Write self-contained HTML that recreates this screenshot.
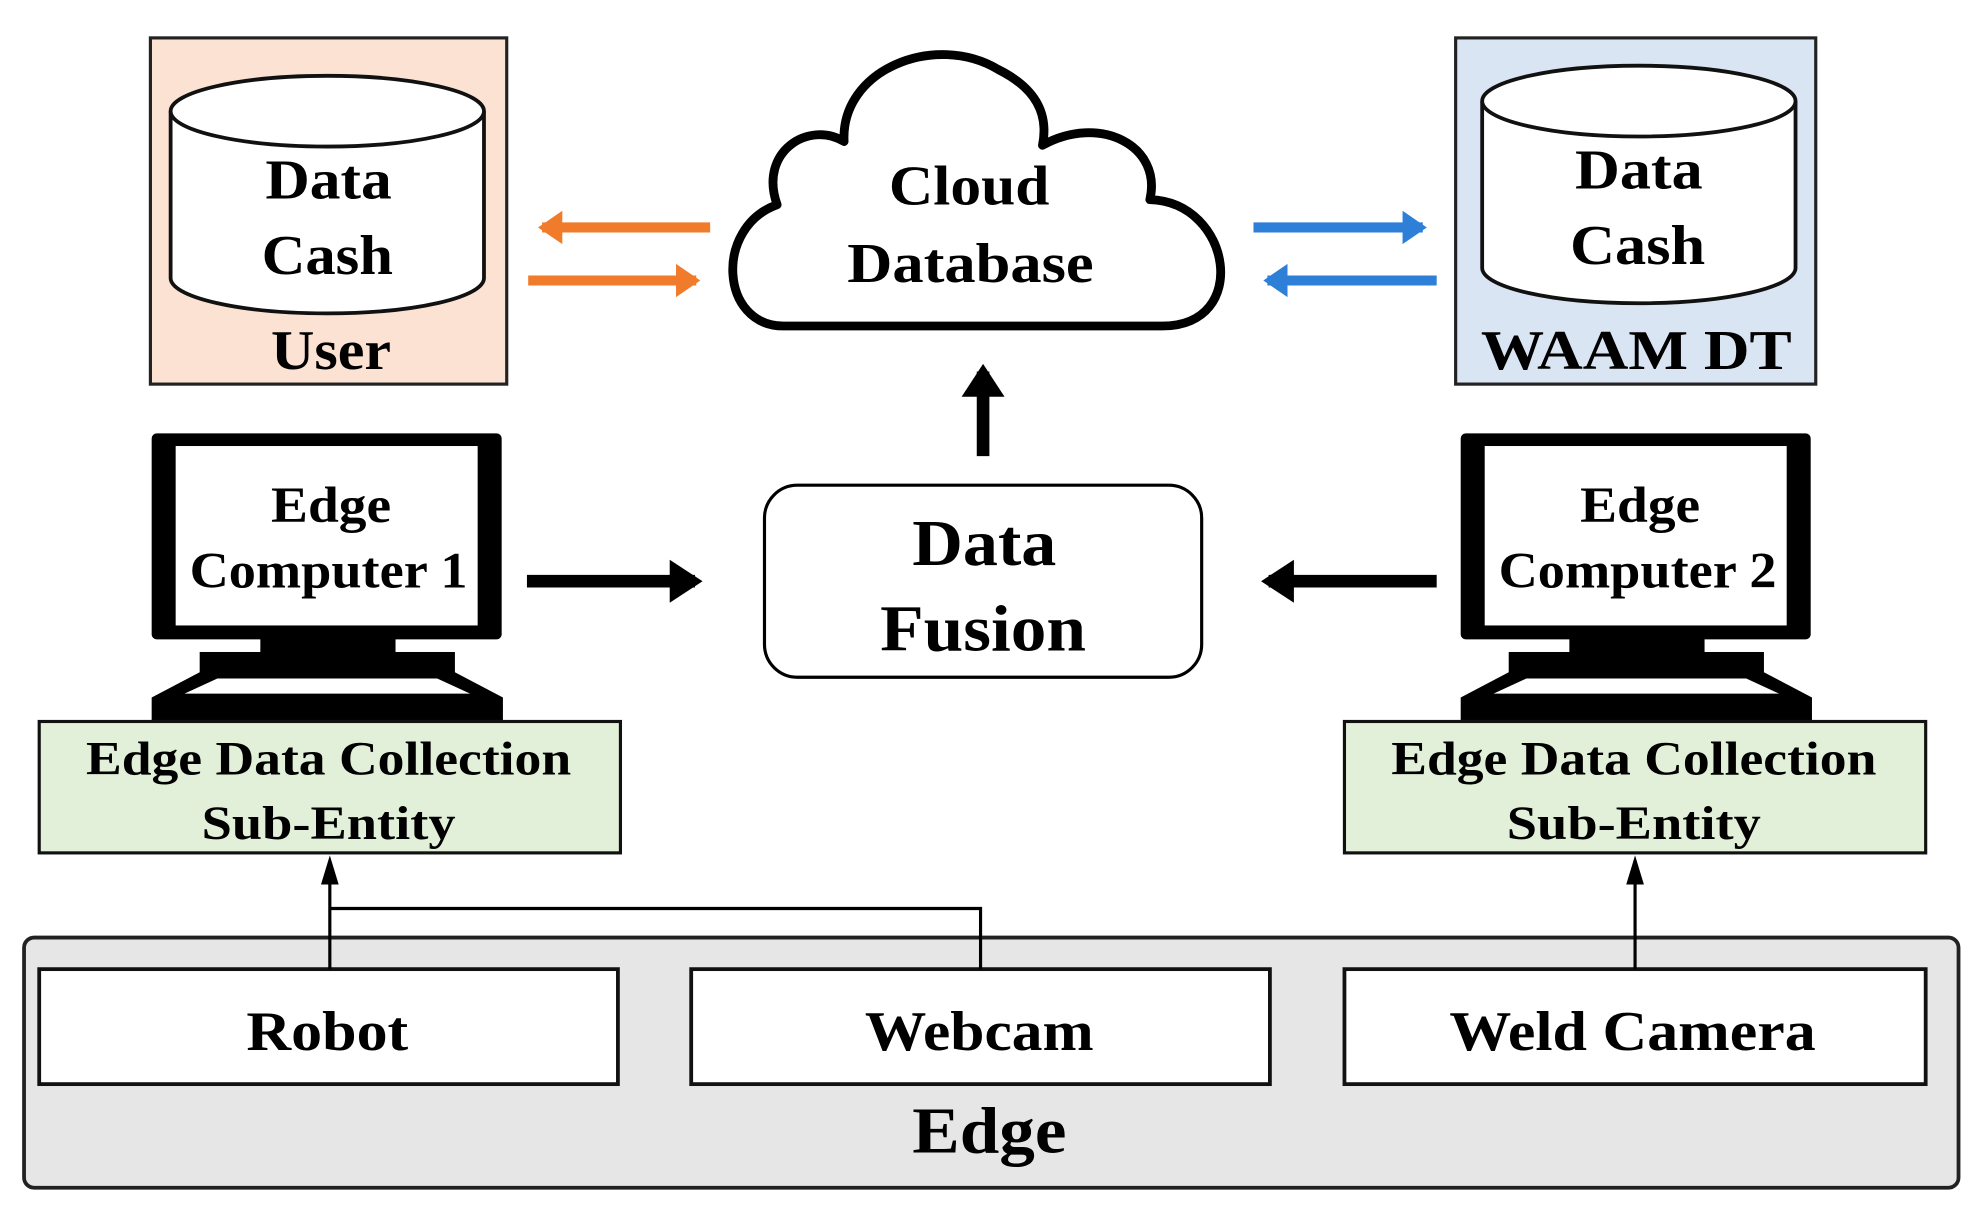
<!DOCTYPE html>
<html><head><meta charset="utf-8"><style>
html,body{margin:0;padding:0;background:#fff;}
svg{display:block;}
text{font-family:"Liberation Serif",serif;font-weight:bold;fill:#000;text-anchor:middle;}
</style></head><body>
<svg width="1975" height="1213" viewBox="0 0 1563 960" xmlns="http://www.w3.org/2000/svg">
<defs>
<marker id="ab" markerWidth="4" markerHeight="4" refX="2" refY="2" orient="auto" markerUnits="strokeWidth"><path d="M0,0.3 L2.6,2 L0,3.7 z" fill="#000"/></marker>
<marker id="ao" markerWidth="4" markerHeight="4" refX="2" refY="2" orient="auto" markerUnits="strokeWidth"><path d="M0,0.35 L2.4,2 L0,3.65 z" fill="#f07b2a"/></marker>
<marker id="abl" markerWidth="4" markerHeight="4" refX="2" refY="2" orient="auto" markerUnits="strokeWidth"><path d="M0,0.35 L2.4,2 L0,3.65 z" fill="#2e7fd8"/></marker>
</defs>

<rect x="119" y="30" width="282" height="274" fill="#fbe2d3" stroke="#222" stroke-width="2.5"/>
<path d="M135,88 L135,220 A124,28 0 0 0 383,220 L383,88" fill="#fff" stroke="#111" stroke-width="3"/>
<ellipse cx="259" cy="88" rx="124" ry="28" fill="#fff" stroke="#111" stroke-width="3"/>
<text x="260" y="157" font-size="44" textLength="100" lengthAdjust="spacingAndGlyphs">Data</text>
<text x="259" y="217" font-size="44" textLength="104" lengthAdjust="spacingAndGlyphs">Cash</text>
<text x="262" y="292" font-size="44" textLength="95" lengthAdjust="spacingAndGlyphs">User</text>

<rect x="1152" y="30" width="285" height="274" fill="#dae5f3" stroke="#222" stroke-width="2.5"/>
<path d="M1173,80 L1173,212 A124,28 0 0 0 1421,212 L1421,80" fill="#fff" stroke="#111" stroke-width="3"/>
<ellipse cx="1297" cy="80" rx="124" ry="28" fill="#fff" stroke="#111" stroke-width="3"/>
<text x="1297" y="149" font-size="44" textLength="101" lengthAdjust="spacingAndGlyphs">Data</text>
<text x="1296" y="209" font-size="44" textLength="107" lengthAdjust="spacingAndGlyphs">Cash</text>
<text x="1295" y="292" font-size="44" textLength="246" lengthAdjust="spacingAndGlyphs">WAAM DT</text>

<path d="M620,258 C570,258 565,180 615,162 C600,120 640,95 668,112 C665,55 740,25 790,55 C820,70 830,90 825,115 C870,90 920,115 910,158 C975,160 990,258 920,258 Z" fill="#fff" stroke="#000" stroke-width="7" stroke-linejoin="round"/>
<text x="767" y="162" font-size="44" textLength="127" lengthAdjust="spacingAndGlyphs">Cloud</text>
<text x="768" y="223" font-size="44" textLength="195" lengthAdjust="spacingAndGlyphs">Database</text>

<line x1="562" y1="180" x2="429" y2="180" stroke="#f07b2a" stroke-width="8" marker-end="url(#ao)"/>
<line x1="418" y1="222" x2="551" y2="222" stroke="#f07b2a" stroke-width="8" marker-end="url(#ao)"/>
<line x1="992" y1="180" x2="1126" y2="180" stroke="#2e7fd8" stroke-width="8" marker-end="url(#abl)"/>
<line x1="1137" y1="222" x2="1003" y2="222" stroke="#2e7fd8" stroke-width="8" marker-end="url(#abl)"/>

<line x1="778" y1="361" x2="778" y2="294" stroke="#000" stroke-width="10" marker-end="url(#ab)"/>

<rect x="605" y="384" width="346" height="152" rx="26" fill="#fff" stroke="#000" stroke-width="2.5"/>
<text x="779" y="447" font-size="52" textLength="114" lengthAdjust="spacingAndGlyphs">Data</text>
<text x="778" y="515" font-size="52" textLength="163" lengthAdjust="spacingAndGlyphs">Fusion</text>

<line x1="417" y1="460" x2="550" y2="460" stroke="#000" stroke-width="10" marker-end="url(#ab)"/>
<line x1="1137" y1="460" x2="1004" y2="460" stroke="#000" stroke-width="10" marker-end="url(#ab)"/>

<g>
<rect x="120" y="343" width="277" height="163" rx="4" fill="#000"/>
<rect x="139" y="353" width="239" height="142" fill="#fff"/>
<rect x="206" y="505" width="107" height="12" fill="#000"/>
<rect x="158" y="516" width="202" height="17" fill="#000"/>
<polygon points="158,532 360,532 398,552 398,570 120,570 120,552" fill="#000"/>
<polygon points="172,537 346,537 372,549 146,549" fill="#fff"/>
<text x="262" y="413" font-size="40" textLength="95" lengthAdjust="spacingAndGlyphs">Edge</text>
<text x="260" y="465" font-size="40" textLength="220" lengthAdjust="spacingAndGlyphs">Computer 1</text>
</g>
<g transform="translate(1036,0)">
<rect x="120" y="343" width="277" height="163" rx="4" fill="#000"/>
<rect x="139" y="353" width="239" height="142" fill="#fff"/>
<rect x="206" y="505" width="107" height="12" fill="#000"/>
<rect x="158" y="516" width="202" height="17" fill="#000"/>
<polygon points="158,532 360,532 398,552 398,570 120,570 120,552" fill="#000"/>
<polygon points="172,537 346,537 372,549 146,549" fill="#fff"/>
<text x="262" y="413" font-size="40" textLength="95" lengthAdjust="spacingAndGlyphs">Edge</text>
<text x="260" y="465" font-size="40" textLength="220" lengthAdjust="spacingAndGlyphs">Computer 2</text>
</g>

<rect x="31" y="571" width="460" height="104" fill="#e2f0d9" stroke="#111" stroke-width="2.5"/>
<text x="260" y="613" font-size="38" textLength="384" lengthAdjust="spacingAndGlyphs">Edge Data Collection</text>
<text x="260" y="664" font-size="38" textLength="201" lengthAdjust="spacingAndGlyphs">Sub-Entity</text>
<rect x="1064" y="571" width="460" height="104" fill="#e2f0d9" stroke="#111" stroke-width="2.5"/>
<text x="1293" y="613" font-size="38" textLength="384" lengthAdjust="spacingAndGlyphs">Edge Data Collection</text>
<text x="1293" y="664" font-size="38" textLength="201" lengthAdjust="spacingAndGlyphs">Sub-Entity</text>

<rect x="19" y="742" width="1531" height="198" rx="8" fill="#e6e6e6" stroke="#222" stroke-width="3"/>
<rect x="31" y="767" width="458" height="91" fill="#fff" stroke="#111" stroke-width="3"/>
<rect x="547" y="767" width="458" height="91" fill="#fff" stroke="#111" stroke-width="3"/>
<rect x="1064" y="767" width="460" height="91" fill="#fff" stroke="#111" stroke-width="3"/>
<text x="259" y="831" font-size="44" textLength="128" lengthAdjust="spacingAndGlyphs">Robot</text>
<text x="775" y="831" font-size="44" textLength="181" lengthAdjust="spacingAndGlyphs">Webcam</text>
<text x="1292" y="831" font-size="44" textLength="290" lengthAdjust="spacingAndGlyphs">Weld Camera</text>
<text x="783" y="912" font-size="52" textLength="122" lengthAdjust="spacingAndGlyphs">Edge</text>

<polyline points="776,767 776,719 261,719" fill="none" stroke="#000" stroke-width="2.5"/>
<line x1="261" y1="767" x2="261" y2="700" stroke="#000" stroke-width="2.5"/>
<polygon points="261,677 254,700 268,700" fill="#000"/>
<line x1="1294" y1="767" x2="1294" y2="700" stroke="#000" stroke-width="2.5"/>
<polygon points="1294,677 1287,700 1301,700" fill="#000"/>
</svg>
</body></html>
